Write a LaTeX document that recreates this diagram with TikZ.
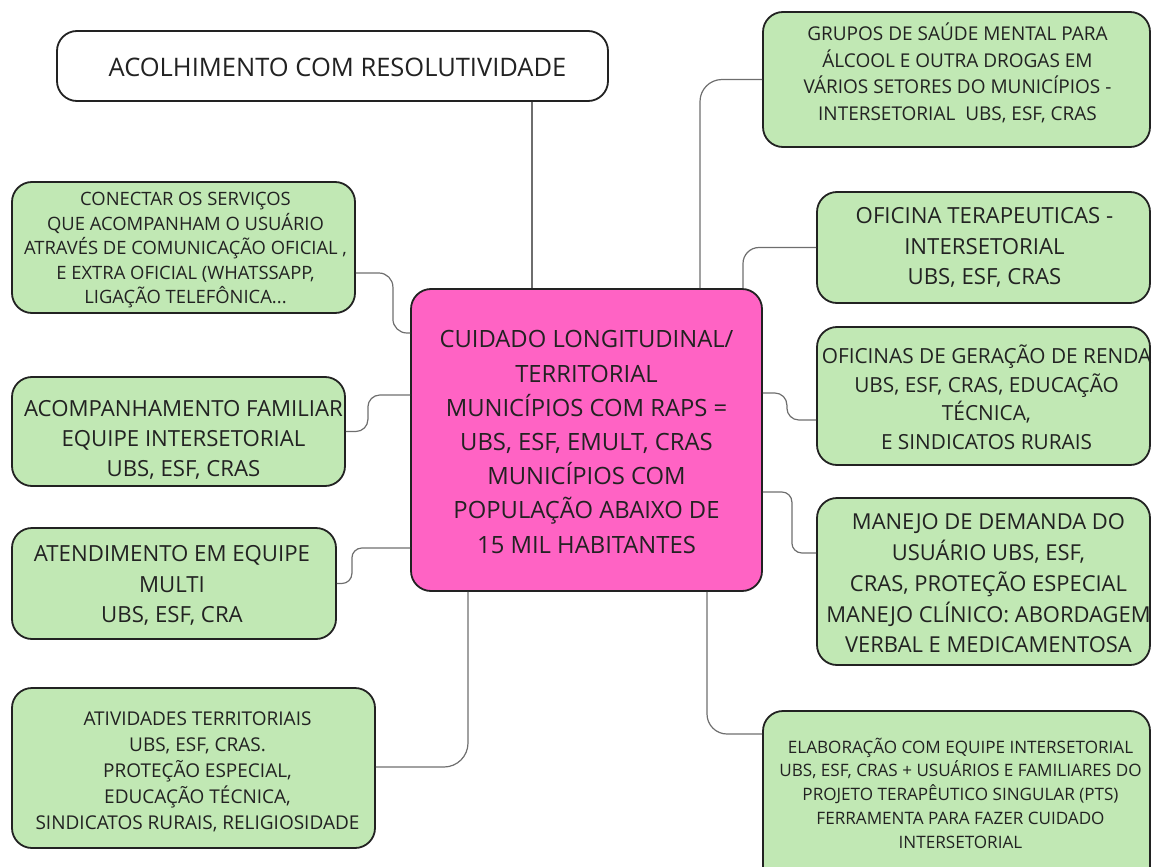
\documentclass[tikz,border=0pt]{standalone}
\usepackage{fontspec}
\setmainfont{Open Sans}
\usetikzlibrary{calc}
\definecolor{boxgreen}{RGB}{193,232,180}
\definecolor{boxpink}{RGB}{255,99,196}
\definecolor{edge}{RGB}{34,34,34}
\definecolor{conncol}{RGB}{110,110,110}
\tikzset{
  box/.style={draw=edge, line width=1.8pt, rounded corners=20pt, fill=boxgreen, inner sep=0pt},
  txt/.style={align=center, text=edge, inner sep=0pt},
  conn/.style={draw=conncol, line width=1.2pt, rounded corners=14pt},
}
\begin{document}
\begin{tikzpicture}[x=1pt,y=-1pt]
\useasboundingbox (0,0) rectangle (1152,867);
% boxes
\node[box, fill=white, minimum width=551pt, minimum height=70pt] (acol) at (332.5,66) {};
\node[box, minimum width=343pt, minimum height=131pt] (con) at (183.5,247.5) {};
\node[box, minimum width=333pt, minimum height=109pt] (acomp) at (178.5,431.5) {};
\node[box, minimum width=324pt, minimum height=111pt] (atend) at (174,583.5) {};
\node[box, minimum width=363pt, minimum height=160pt] (ativ) at (193.5,768) {};
\node[box, fill=boxpink, minimum width=351pt, minimum height=302pt] (center) at (586.5,440) {};
\node[box, minimum width=387pt, minimum height=135pt] (grupos) at (956.5,79.5) {};
\node[box, minimum width=333pt, minimum height=111pt] (ofter) at (983.5,247.5) {};
\node[box, minimum width=333pt, minimum height=138pt] (ofger) at (983.5,396) {};
\node[box, minimum width=333pt, minimum height=167pt] (manejo) at (983.5,581.5) {};
\node[box, minimum width=387pt, minimum height=178pt] (elab) at (956.5,800) {};
% texts
\node[txt, font=\fontsize{25.5}{30}\selectfont] (acol-t) at ([xshift=5pt,yshift=-1pt]acol.center) {ACOLHIMENTO COM RESOLUTIVIDADE};
\node[txt, font=\fontsize{18.4}{24.5}\selectfont] (con-t) at ([xshift=2pt,yshift=-3pt]con.center) {CONECTAR OS SERVIÇOS\\ QUE ACOMPANHAM O USUÁRIO\\ATRAVÉS DE COMUNICAÇÃO OFICIAL ,\\ E EXTRA OFICIAL (WHATSSAPP,\\LIGAÇÃO TELEFÔNICA...};
\node[txt, font=\fontsize{22.2}{30}\selectfont] (acomp-t) at ([xshift=5pt,yshift=-8pt]acomp.center) {ACOMPANHAMENTO FAMILIAR\\EQUIPE INTERSETORIAL\\UBS, ESF, CRAS};
\node[txt, font=\fontsize{22.2}{30.5}\selectfont] (atend-t) at ([xshift=-2pt,yshift=-2pt]atend.center) {ATENDIMENTO EM EQUIPE\\MULTI\\UBS, ESF, CRA};
\node[txt, font=\fontsize{19}{26}\selectfont] (ativ-t) at ([xshift=4pt,yshift=-4pt]ativ.center) {ATIVIDADES TERRITORIAIS\\UBS, ESF, CRAS.\\PROTEÇÃO ESPECIAL,\\EDUCAÇÃO TÉCNICA,\\SINDICATOS RURAIS, RELIGIOSIDADE};
\node[txt, font=\fontsize{23.8}{34.2}\selectfont] (center-t) at ([yshift=-2pt]center.center) {CUIDADO LONGITUDINAL/\\TERRITORIAL\\MUNICÍPIOS COM RAPS =\\UBS, ESF, EMULT, CRAS\\MUNICÍPIOS COM\\POPULAÇÃO ABAIXO DE\\15 MIL HABITANTES};
\node[txt, font=\fontsize{19}{26.7}\selectfont] (grupos-t) at ([xshift=1pt,yshift=6.5pt]grupos.center) {GRUPOS DE SAÚDE MENTAL PARA\\ÁLCOOL E OUTRA DROGAS EM\\VÁRIOS SETORES DO MUNICÍPIOS -\\INTERSETORIAL\ \ UBS, ESF, CRAS};
\node[txt, font=\fontsize{22.2}{30.5}\selectfont] (ofter-t) at ([xshift=1pt]ofter.center) {OFICINA TERAPEUTICAS -\\INTERSETORIAL\\UBS, ESF, CRAS};
\node[txt, font=\fontsize{20.8}{28.5}\selectfont] (ofger-t) at ([xshift=3pt,yshift=-1.5pt]ofger.center) {OFICINAS DE GERAÇÃO DE RENDA\\UBS, ESF, CRAS, EDUCAÇÃO\\TÉCNICA,\\E SINDICATOS RURAIS};
\node[txt, font=\fontsize{21.95}{30.7}\selectfont] (manejo-t) at ([xshift=5pt,yshift=-2pt]manejo.center) {MANEJO DE DEMANDA DO\\USUÁRIO UBS, ESF,\\CRAS, PROTEÇÃO ESPECIAL\\MANEJO CLÍNICO: ABORDAGEM\\VERBAL E MEDICAMENTOSA};
\node[txt, font=\fontsize{17.1}{23.8}\selectfont] (elab-t) at ([xshift=4pt,yshift=7pt]elab.center) {ELABORAÇÃO COM EQUIPE INTERSETORIAL\\UBS, ESF, CRAS + USUÁRIOS E FAMILIARES DO\\PROJETO TERAPÊUTICO SINGULAR (PTS)\\FERRAMENTA PARA FAZER CUIDADO\\INTERSETORIAL};
% connectors
\draw[conn] ([xshift=199.5pt]acol.south) -- ([xshift=-54.5pt]center.north);
\draw[conn, rounded corners=22pt] ([xshift=113.5pt]center.north) |- (grupos.west);
\draw[conn, rounded corners=16pt] ([xshift=156.5pt]center.north) |- (ofter.west);
\draw[conn] ([yshift=-25.5pt]con.east) -- ++(37,0) |- ([yshift=107pt]center.west);
\draw[conn, rounded corners=12pt] (acomp.east) -- ++(22,0) |- ([yshift=45pt]center.west);
\draw[conn, rounded corners=10pt] (atend.east) -- ++(15,0) |- ([yshift=-108pt]center.west);
\draw[conn, rounded corners=24pt] ([yshift=1pt]ativ.east) -| ([xshift=-118.5pt]center.south);
\draw[conn, rounded corners=12pt] ([yshift=47pt]center.east) -- ++(24,0) |- ([yshift=-24pt]ofger.west);
\draw[conn, rounded corners=10pt] ([yshift=-52pt]center.east) -- ++(29,0) |- ([yshift=28.5pt]manejo.west);
\draw[conn, rounded corners=20pt] ([xshift=120.5pt]center.south) |- ([yshift=66pt]elab.west);
\end{tikzpicture}
\end{document}
